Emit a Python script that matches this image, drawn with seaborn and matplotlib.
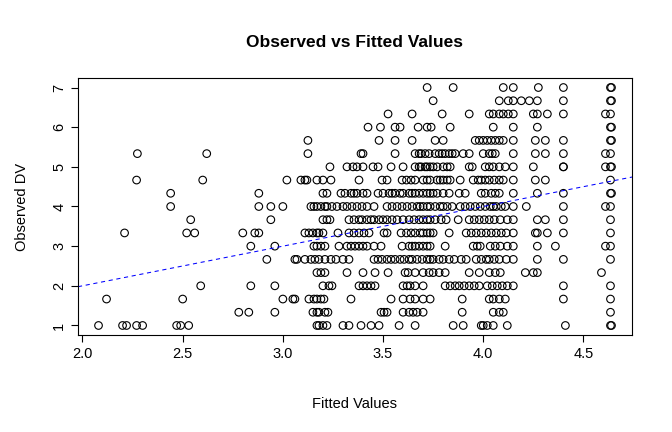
import pandas as pd
import matplotlib
matplotlib.use("Agg")
import matplotlib.pyplot as plt
import seaborn as sns

# valores observados (escala em terços) e os valores ajustados lidos em cada linha
at_7_00 = [3.72, 3.85, 4.10, 4.15, 4.275, 4.40, 4.635, 4.64]
at_6_67 = [3.75, 4.08, 4.125, 4.15, 4.19, 4.23, 4.27, 4.40, 4.635, 4.64]
at_6_33 = [3.525, 3.645, 3.795, 3.93, 4.03, 4.05, 4.08, 4.10, 4.125, 4.15,
           4.25, 4.27, 4.32, 4.40, 4.61, 4.635]
at_6_00 = [3.425, 3.487, 3.56, 3.585, 3.675, 3.72, 3.74, 3.835, 4.05, 4.15,
           4.27, 4.635, 4.64]
at_5_67 = [3.125, 3.48, 3.56, 3.645, 3.76, 3.80, 3.96, 3.98, 4.00, 4.02, 4.04,
           4.06, 4.08, 4.10, 4.15, 4.26, 4.31, 4.40, 4.635, 4.64]
at_5_33 = [2.274, 2.62, 3.125, 3.39, 3.40, 3.56, 3.66, 3.68, 3.69, 3.71, 3.73,
           3.76, 3.78, 3.795, 3.81, 3.83, 3.845, 3.86, 3.90, 3.93, 4.00, 4.03,
           4.045, 4.06, 4.15, 4.26, 4.31, 4.40, 4.61, 4.635]
at_5_00 = [3.235, 3.32, 3.35, 3.37, 3.40, 3.45, 3.475, 3.54, 3.60, 3.66, 3.68,
           3.69, 3.71, 3.72, 3.735, 3.75, 3.77, 3.80, 3.82, 3.835, 3.93, 3.945,
           4.01, 4.03, 4.05, 4.08, 4.11, 4.15, 4.25, 4.40, 4.40, 4.61, 4.635, 4.64]
at_4_67 = [2.27, 2.60, 3.02, 3.09, 3.11, 3.12, 3.17, 3.20, 3.24, 3.38, 3.495,
           3.52, 3.595, 3.617, 3.64, 3.66, 3.70, 3.72, 3.735, 3.77, 3.785, 3.80,
           3.82, 3.835, 3.885, 3.95, 3.975, 3.99, 4.01, 4.03, 4.055, 4.08, 4.10,
           4.15, 4.26, 4.31, 4.635]
at_4_33 = [2.44, 2.88, 3.20, 3.22, 3.29, 3.31, 3.34, 3.355, 3.37, 3.40, 3.42,
           3.475, 3.50, 3.53, 3.545, 3.56, 3.585, 3.60, 3.63, 3.645, 3.66, 3.68,
           3.70, 3.72, 3.735, 3.75, 3.77, 3.80, 3.83, 3.88, 3.91, 3.99, 4.01,
           4.04, 4.06, 4.08, 4.15, 4.27, 4.40, 4.635, 4.64]
at_4_00 = [2.44, 2.88, 2.94, 3.00, 3.14, 3.155, 3.17, 3.19, 3.21, 3.22, 3.245,
           3.27, 3.30, 3.32, 3.345, 3.37, 3.395, 3.42, 3.455, 3.52, 3.545, 3.57,
           3.595, 3.62, 3.645, 3.67, 3.685, 3.70, 3.72, 3.735, 3.76, 3.785, 3.80,
           3.82, 3.845, 3.885, 3.91, 3.935, 3.96, 3.985, 4.01, 4.035, 4.05,
           4.065, 4.09, 4.11, 4.15, 4.215, 4.40, 4.61, 4.635]
at_3_67 = [2.54, 2.94, 3.20, 3.22, 3.235, 3.33, 3.355, 3.38, 3.395, 3.42, 3.44,
           3.455, 3.48, 3.50, 3.52, 3.545, 3.57, 3.60, 3.63, 3.655, 3.68, 3.70,
           3.72, 3.735, 3.76, 3.79, 3.815, 3.875, 3.93, 3.955, 3.98, 4.005,
           4.03, 4.055, 4.085, 4.12, 4.15, 4.27, 4.31, 4.40, 4.635]
at_3_33 = [2.21, 2.52, 2.56, 2.80, 2.86, 2.88, 3.11, 3.13, 3.15, 3.17, 3.18,
           3.20, 3.275, 3.33, 3.355, 3.38, 3.405, 3.43, 3.505, 3.52, 3.59,
           3.617, 3.64, 3.66, 3.685, 3.70, 3.72, 3.735, 3.75, 3.83, 3.915, 3.94,
           3.965, 3.99, 4.015, 4.04, 4.065, 4.09, 4.115, 4.15, 4.26, 4.27, 4.32,
           4.40, 4.635]
at_3_00 = [2.84, 2.96, 3.155, 3.17, 3.19, 3.21, 3.28, 3.32, 3.34, 3.36, 3.38,
           3.40, 3.42, 3.455, 3.49, 3.595, 3.63, 3.645, 3.66, 3.68, 3.70, 3.72,
           3.735, 3.81, 3.95, 3.97, 3.985, 4.035, 4.06, 4.085, 4.12, 4.15, 4.27,
           4.36, 4.61, 4.635]
at_2_67 = [2.92, 3.06, 3.07, 3.11, 3.14, 3.16, 3.18, 3.21, 3.24, 3.265, 3.30,
           3.33, 3.455, 3.475, 3.495, 3.52, 3.54, 3.56, 3.585, 3.605, 3.63,
           3.645, 3.67, 3.695, 3.72, 3.735, 3.75, 3.78, 3.80, 3.83, 3.855, 3.89,
           3.915, 3.965, 3.99, 4.015, 4.03, 4.055, 4.08, 4.115, 4.15, 4.27,
           4.40, 4.635]
at_2_33 = [3.17, 3.19, 3.21, 3.32, 3.40, 3.46, 3.525, 3.61, 3.625, 3.66, 3.70,
           3.73, 3.75, 3.78, 3.81, 3.93, 3.98, 4.03, 4.06, 4.085, 4.21, 4.25,
           4.27, 4.59]
at_2_00 = [2.59, 2.84, 2.96, 3.20, 3.23, 3.245, 3.38, 3.40, 3.42, 3.44, 3.46,
           3.60, 3.62, 3.635, 3.66, 3.70, 3.81, 3.835, 3.86, 3.88, 3.905, 3.93,
           3.955, 3.98, 4.02, 4.045, 4.07, 4.095, 4.12, 4.15, 4.40, 4.635]
at_1_67 = [2.12, 2.50, 3.00, 3.05, 3.06, 3.13, 3.155, 3.17, 3.19, 3.205, 3.34,
           3.54, 3.60, 3.635, 3.66, 3.70, 3.735, 3.895, 4.03, 4.05, 4.08, 4.11,
           4.40, 4.635]
at_1_33 = [2.78, 2.83, 2.96, 3.15, 3.17, 3.18, 3.21, 3.225, 3.49, 3.505, 3.52,
           3.60, 3.63, 3.65, 3.67, 3.70, 3.895, 4.05, 4.08, 4.10, 4.635]
at_1_00 = [2.08, 2.20, 2.22, 2.27, 2.30, 2.47, 2.49, 2.53, 3.17, 3.18, 3.20,
           3.22, 3.30, 3.33, 3.39, 3.44, 3.48, 3.58, 3.66, 3.85, 3.90, 3.99,
           4.00, 4.02, 4.05, 4.12, 4.41, 4.635, 4.64]

rows = [(1.0, at_1_00), (4/3, at_1_33), (5/3, at_1_67), (2.0, at_2_00),
        (7/3, at_2_33), (8/3, at_2_67), (3.0, at_3_00), (10/3, at_3_33),
        (11/3, at_3_67), (4.0, at_4_00), (13/3, at_4_33), (14/3, at_4_67),
        (5.0, at_5_00), (16/3, at_5_33), (17/3, at_5_67), (6.0, at_6_00),
        (19/3, at_6_33), (20/3, at_6_67), (7.0, at_7_00)]

df = pd.DataFrame(
    [(x, y) for y, xs in rows for x in xs],
    columns=["fitted", "observed"]
)

sns.set_style("white")
plt.rcParams["font.family"] = ["Liberation Sans", "DejaVu Sans"]
plt.rcParams["text.color"] = "black"
plt.rcParams["axes.labelcolor"] = "black"

fig = plt.figure(figsize=(6.72, 4.32), dpi=100)
ax = fig.add_axes([78/672, 1 - 335/432, (632 - 78)/672, (335 - 78)/432])

sns.scatterplot(data=df, x="fitted", y="observed", ax=ax,
                marker="o", s=30, facecolor="none", edgecolor="black",
                linewidth=0.8)

# linha y = x
ax.axline((0, 0), slope=1, color="blue", linestyle=(0, (4, 3.5)), linewidth=0.75)

# limites estilo R (4% de folga)
xr = df["fitted"].max() - df["fitted"].min()
ax.set_xlim(df["fitted"].min() - 0.04 * xr, df["fitted"].max() + 0.04 * xr)
ax.set_ylim(1 - 0.04 * 6, 7 + 0.04 * 6)

ax.set_xticks([2.0, 2.5, 3.0, 3.5, 4.0, 4.5])
ax.set_xticklabels(["2.0", "2.5", "3.0", "3.5", "4.0", "4.5"])
ax.set_yticks([1, 2, 3, 4, 5, 6, 7])
for lab in ax.get_yticklabels():
    lab.set_rotation(90)
    lab.set_va("center")

ax.tick_params(direction="out", length=5, width=0.8, colors="black",
               labelsize=10.5, pad=3.5, bottom=True, left=True)
for sp in ax.spines.values():
    sp.set_color("black")
    sp.set_linewidth(0.8)

ax.set_xlabel("Fitted Values", fontsize=10.5, labelpad=26, color="black")
ax.set_ylabel("Observed DV", fontsize=10.5, labelpad=17, color="black")
ax.set_title("Observed vs Fitted Values", fontsize=12.5, fontweight="bold",
             pad=22, color="black")

plt.savefig("out.png", dpi=100)
